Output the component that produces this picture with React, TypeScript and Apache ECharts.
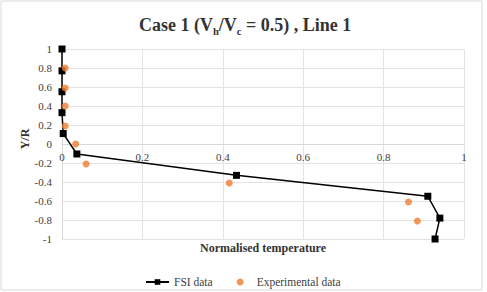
import React, { useEffect, useRef } from "react";
import * as echarts from "echarts";

const fsiX = [0, 0, 0, 0, 0.003, 0.037, 0.434, 0.91, 0.94, 0.928];
const fsiY = [1, 0.77, 0.55, 0.33, 0.11, -0.105, -0.33, -0.55, -0.78, -1.0];
const expX = [0.008, 0.008, 0.008, 0.008, 0.034, 0.06, 0.416, 0.862, 0.884];
const expY = [0.8, 0.59, 0.4, 0.19, 0, -0.21, -0.41, -0.61, -0.81];
const seriesNames = ["FSI data", "Experimental data"];

const FONT = "'Liberation Serif', 'Times New Roman', serif";

export default function App() {
  const ref = useRef<HTMLDivElement>(null);
  useEffect(() => {
    if (!ref.current) return;
    const chart = echarts.init(ref.current, undefined, { renderer: "svg" });
    const fsi = fsiX.map((x, i) => [x, fsiY[i]]);
    const exp = expX.map((x, i) => [x, expY[i]]);
    chart.setOption({
      animation: false,
      backgroundColor: "#ffffff",
      title: {
        text: "{a|Case 1 (V}{s|h}{a|/V}{s|c}{a| = 0.5) , Line 1}",
        left: 134,
        top: 8,
        textStyle: {
          rich: {
            a: { fontFamily: FONT, fontSize: 18, fontWeight: "bold", color: "#333333", lineHeight: 21, verticalAlign: "bottom" },
            s: { fontFamily: FONT, fontSize: 10.5, fontWeight: "bold", color: "#333333", lineHeight: 21, verticalAlign: "bottom", padding: [0, 0, -3, 0] },
          },
        },
      },
      grid: { left: 62, right: 23, top: 49, bottom: 53 },
      xAxis: {
        type: "value",
        min: 0,
        max: 1,
        interval: 0.2,
        offset: -95,
        axisLine: { onZero: false, lineStyle: { color: "#d9d9d9" } },
        axisTick: { show: false },
        axisLabel: { fontFamily: FONT, fontSize: 11, color: "#404040", margin: 7 },
        splitLine: { show: true, lineStyle: { color: "#e3e3e3" } },
      },
      yAxis: {
        type: "value",
        min: -1,
        max: 1,
        interval: 0.2,
        axisLine: { show: true, onZero: false, lineStyle: { color: "#d9d9d9" } },
        axisTick: { show: false },
        axisLabel: {
          fontFamily: FONT,
          fontSize: 11,
          color: "#404040",
          margin: 10,
          formatter: (v: number) => String(Math.round(v * 10) / 10),
        },
        splitLine: { show: true, lineStyle: { color: "#e3e3e3" } },
      },
      legend: {
        data: seriesNames,
        left: 140,
        top: 271,
        itemWidth: 23,
        itemHeight: 7,
        itemGap: 24,
        textStyle: { fontFamily: FONT, fontSize: 11.5, color: "#404040" },
      },
      graphic: [
        {
          type: "rect",
          shape: { x: 1, y: 1, width: 481, height: 289 },
          style: { fill: "none", stroke: "#d9d9d9", lineWidth: 1 },
          silent: true,
        },
        {
          type: "text",
          x: 263,
          y: 248,
          style: {
            text: "Normalised temperature",
            fontFamily: FONT,
            fontSize: 12,
            fontWeight: "bold",
            fill: "#333333",
            align: "center",
            verticalAlign: "middle",
          },
        },
        {
          type: "text",
          x: 25,
          y: 139,
          rotation: Math.PI / 2,
          style: {
            text: "Y/R",
            fontFamily: FONT,
            fontSize: 12,
            fontWeight: "bold",
            fill: "#333333",
            align: "center",
            verticalAlign: "middle",
          },
        },
      ],
      series: [
        {
          name: seriesNames[0],
          type: "line",
          data: fsi,
          symbol: "rect",
          symbolSize: 7,
          itemStyle: { color: "#000000" },
          lineStyle: { color: "#000000", width: 1.5 },
          z: 2,
        },
        {
          name: seriesNames[1],
          type: "scatter",
          data: exp,
          symbol: "circle",
          symbolSize: 7,
          itemStyle: { color: "#ED7D31" },
          z: 3,
        },
      ],
    });
    return () => chart.dispose();
  }, []);
  return <div ref={ref} style={{ position: "absolute", left: 0, top: 0, width: 487, height: 292 }} />;
}
